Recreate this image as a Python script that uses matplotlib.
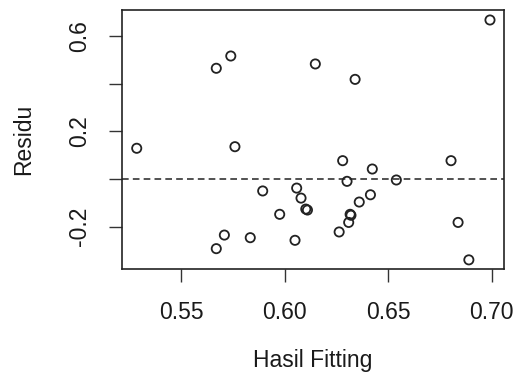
import matplotlib
matplotlib.use('Agg')
import matplotlib.pyplot as plt
import numpy as np

plt.rcParams['font.family'] = ['Liberation Sans', 'DejaVu Sans']

# fitted values and residuals
fitted = [0.6991, 0.574, 0.567, 0.6148, 0.634,
          0.5286, 0.576, 0.628, 0.6423, 0.6803,
          0.6301, 0.6539, 0.5894, 0.6058, 0.6079,
          0.6102, 0.611, 0.6414, 0.636, 0.6316,
          0.632, 0.6309, 0.6263, 0.5976, 0.5709,
          0.5834, 0.605, 0.567, 0.6837, 0.6889]
residu = [0.667, 0.516, 0.4645, 0.4826, 0.418,
          0.129, 0.1356, 0.077, 0.042, 0.077,
          -0.0097, -0.004, -0.050, -0.038, -0.080,
          -0.126, -0.130, -0.066, -0.0965, -0.148,
          -0.152, -0.182, -0.222, -0.148, -0.235,
          -0.246, -0.257, -0.292, -0.182, -0.339]

xticks = [0.55, 0.60, 0.65, 0.70]
yticks = [-0.2, 0.0, 0.2, 0.4, 0.6]
ylabels = ['-0.2', '', '0.2', '', '0.6']

fig = plt.figure(figsize=(5.17, 3.81), dpi=100)
ax = fig.add_axes([0.236, 0.2948, 0.739, 0.679])

ax.scatter(fitted, residu, s=44, facecolors='none', edgecolors='#222222',
           linewidths=1.3, zorder=3)
ax.axhline(0, color='#333333', lw=1.2, dashes=(4, 2.5))

ax.set_xlim(0.5215, 0.7059)
ax.set_ylim(-0.376, 0.709)

ax.set_xticks(xticks)
ax.set_xticklabels(['%.2f' % v for v in xticks])
ax.set_yticks(yticks)
ax.set_yticklabels(ylabels, rotation=90, va='center')

ax.tick_params(axis='both', length=9.5, width=1, color='#333333',
               labelsize=16.5, labelcolor='#1a1a1a')
ax.tick_params(axis='x', pad=14)
ax.tick_params(axis='y', pad=12.5)

for sp in ax.spines.values():
    sp.set_linewidth(1.2)
    sp.set_color('#222222')

ax.set_xlabel('Hasil Fitting', fontsize=16.5, color='#1a1a1a', labelpad=18)
ax.set_ylabel('Residu', fontsize=16.5, color='#1a1a1a', labelpad=24)

fig.savefig('out.png', dpi=100)
